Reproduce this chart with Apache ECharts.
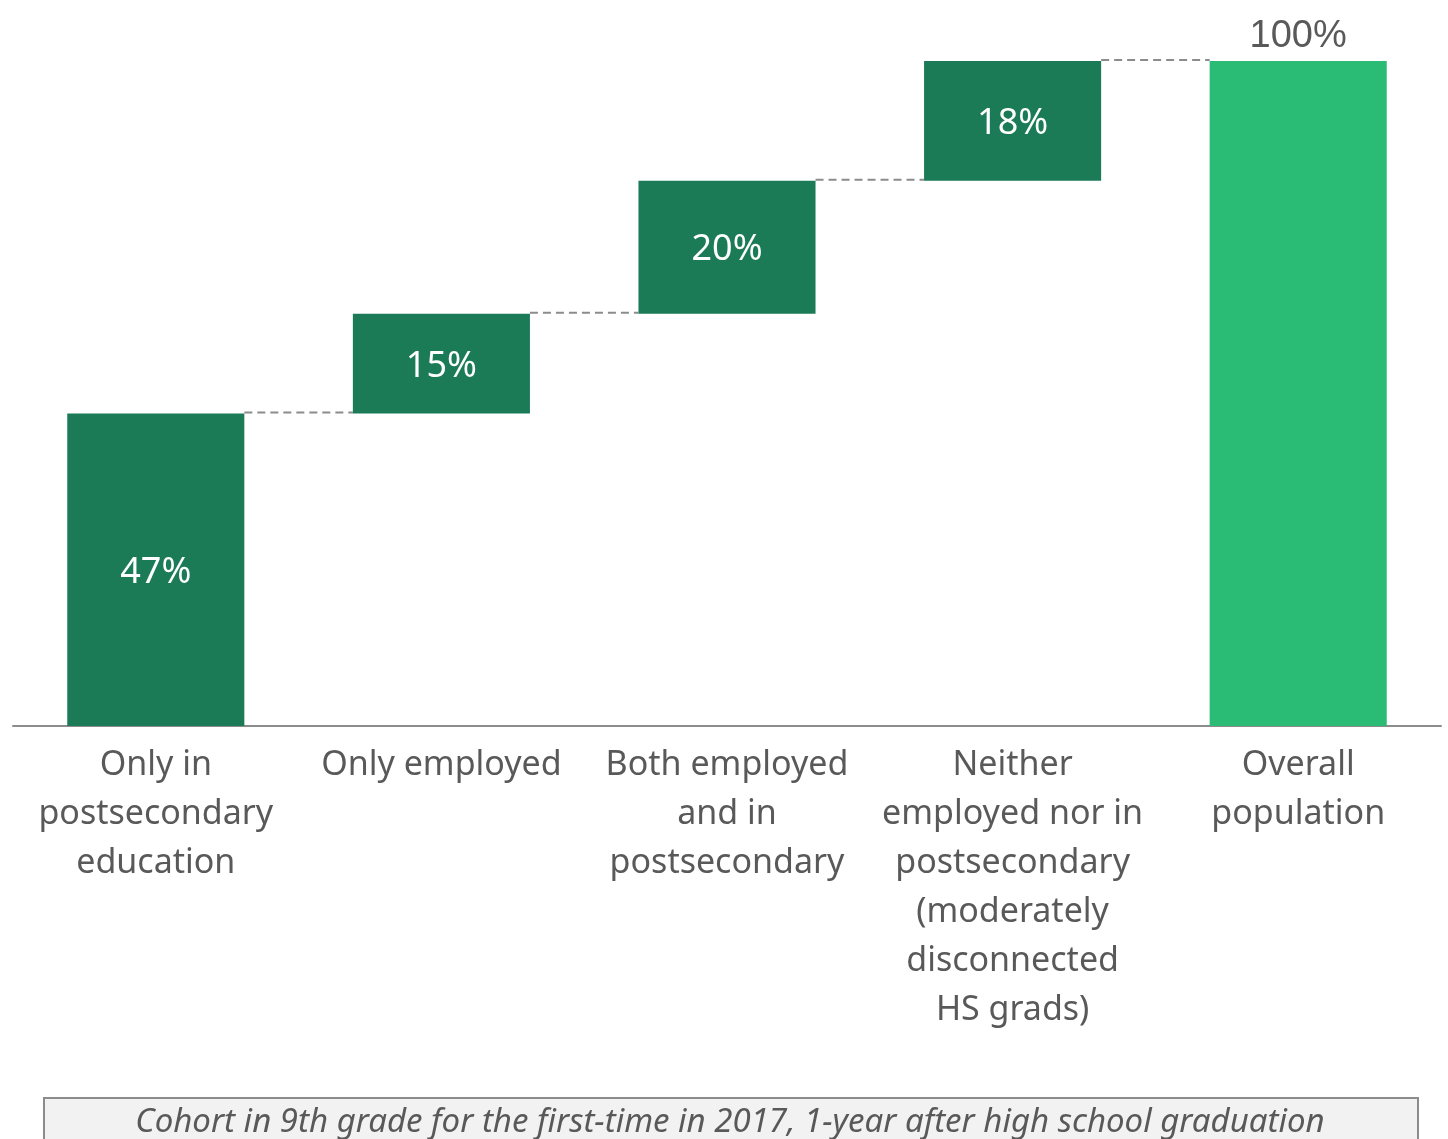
<!DOCTYPE html>
<html>
<head>
<meta charset="utf-8">
<script src="https://cdn.jsdelivr.net/npm/echarts@6/dist/echarts.min.js"></script>
<style>
  html, body { margin: 0; padding: 0; background: #fff; }
  #chart { width: 1448px; height: 1139px; }
</style>
</head>
<body>
<div id="chart"></div>
<script>
// Waterfall: share of the cohort in each outcome, summing to the overall population
const categories = [
  'Only in\npostsecondary\neducation',
  'Only employed',
  'Both employed\nand in\npostsecondary',
  'Neither\nemployed nor in\npostsecondary\n(moderately\ndisconnected\nHS grads)',
  'Overall\npopulation'
];
const stepValues = [47, 15, 20, 18];
const totalValue = 100;
const footnote = 'Cohort in 9th grade for the first-time in 2017, 1-year after high school graduation';

const DARK = '#1b7b57';
const LIGHT = '#2abb74';
const TEXT = '#595959';
const FONT = '"Noto Sans", Lato, sans-serif';

// invisible offsets and visible steps
const baseData = [];
const stepData = [];
let running = 0;
stepValues.forEach(v => {
  baseData.push(running);
  stepData.push({ value: v, itemStyle: { color: DARK } });
  running += v;
});
baseData.push(0);
stepData.push({
  value: totalValue,
  itemStyle: { color: LIGHT },
  label: {
    position: 'top',
    color: TEXT,
    fontFamily: '"Liberation Sans", Arial, sans-serif',
    fontSize: 38,
    distance: 8
  }
});

// connector levels: top of each bar, joining it to the next
const connectorData = [];
let acc = 0;
stepValues.forEach((v, i) => {
  acc += v;
  connectorData.push([i, acc]);
});

const chart = echarts.init(document.getElementById('chart'), null, { renderer: 'canvas' });
chart.setOption({
  animation: false,
  grid: { left: 13, right: 7, top: 61, bottom: 413, containLabel: false },
  xAxis: {
    type: 'category',
    data: categories,
    axisLine: { lineStyle: { color: '#8c8c8c', width: 2 } },
    axisTick: { show: false },
    axisLabel: {
      interval: 0,
      color: TEXT,
      fontFamily: FONT,
      fontSize: 34,
      lineHeight: 49,
      margin: 15
    }
  },
  yAxis: {
    type: 'value',
    min: 0,
    max: 100,
    show: false,
    splitLine: { show: false }
  },
  series: [
    {
      type: 'bar',
      stack: 'w',
      data: baseData,
      itemStyle: { color: 'transparent' },
      barWidth: '62%',
      silent: true
    },
    {
      type: 'bar',
      stack: 'w',
      data: stepData,
      barWidth: '62%',
      label: {
        show: true,
        position: 'inside',
        offset: [0, 3],
        formatter: p => p.value + '%',
        color: '#ffffff',
        fontFamily: FONT,
        fontSize: 36
      }
    },
    {
      type: 'custom',
      data: connectorData,
      silent: true,
      z: 1,
      renderItem: (params, api) => {
        const i = api.value(0);
        const y = api.value(1);
        const band = api.size([1, 0])[0];
        const half = band * 0.62 / 2;
        const p1 = api.coord([i, y]);
        const p2 = api.coord([i + 1, y]);
        return {
          type: 'line',
          shape: { x1: p1[0] + half, y1: p1[1] - 1, x2: p2[0] - half, y2: p1[1] - 1 },
          style: { stroke: '#8c8c8c', lineWidth: 2, lineDash: [8, 5] }
        };
      }
    }
  ],
  graphic: [
    {
      type: 'rect',
      left: 43,
      top: 1097,
      shape: { width: 1374, height: 60 },
      style: { fill: '#f2f2f2', stroke: '#8c8c8c', lineWidth: 2 }
    },
    {
      type: 'text',
      x: 730,
      y: 1106,
      style: {
        text: footnote,
        align: 'center',
        verticalAlign: 'top',
        fill: TEXT,
        fontFamily: FONT,
        fontStyle: 'italic',
        fontSize: 33
      }
    }
  ]
});
</script>
</body>
</html>
